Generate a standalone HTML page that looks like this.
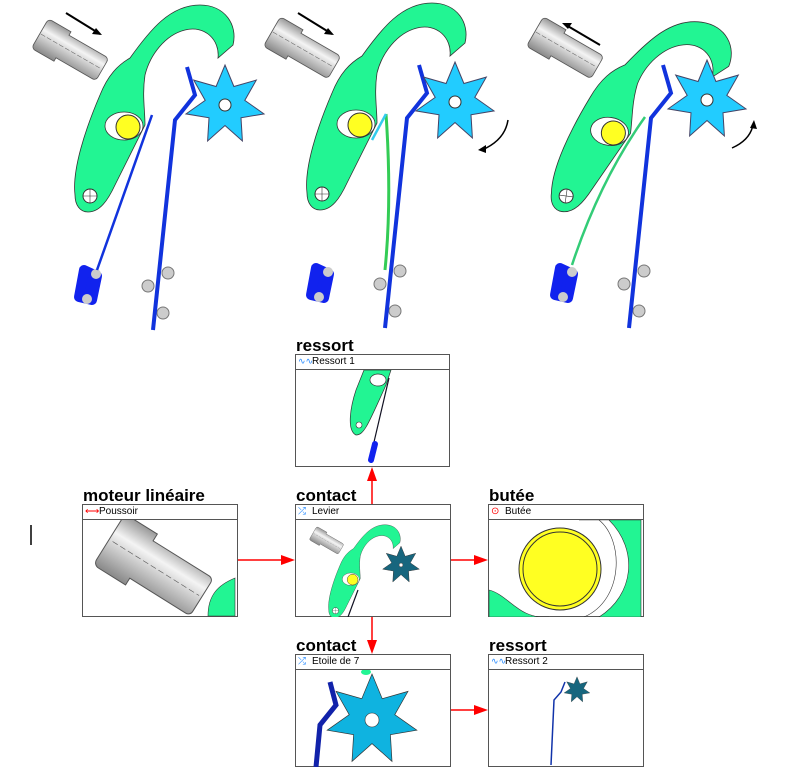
<!DOCTYPE html>
<html><head><meta charset="utf-8"><style>
body{margin:0;background:#fff;width:810px;height:779px;overflow:hidden;position:relative;font-family:"Liberation Sans",sans-serif}
.t{position:absolute;font-size:17px;font-weight:bold;color:#000;line-height:18px}
.p{position:absolute;border:1px solid #555;background:#fff;box-sizing:border-box}
.h{height:14px;border-bottom:1px solid #555;font-size:10px;line-height:13px;padding-left:16px;position:relative}
</style></head><body>
<svg width="810" height="779" style="position:absolute;left:0;top:0">
<defs>
<linearGradient id="cyl" x1="0" y1="0" x2="0" y2="1"><stop offset="0" stop-color="#999"/><stop offset=".35" stop-color="#f4f4f4"/><stop offset="1" stop-color="#888"/></linearGradient>
<g id="lever">
<path d="M75,195 C72,170 85,130 100,95 C108,75 118,65 130,58 C150,30 170,5 200,5 C225,5 238,25 233,45 L218,58 C220,40 205,25 185,30 C165,35 150,55 145,75 C142,95 145,110 145,125 L115,185 C108,200 100,212 88,212 C80,212 75,205 75,195 Z" fill="#22f593" stroke="#333" stroke-width="0.8"/>
<ellipse cx="124" cy="126" rx="19" ry="14" fill="#fff" stroke="#333" stroke-width=".8"/>
<circle cx="128" cy="127" r="12" fill="#ffff22" stroke="#333"/>
<circle cx="90" cy="196" r="7" fill="#fff" stroke="#333"/>
<path d="M83,196h14M90,189v14" stroke="#333" stroke-width=".6"/>
</g>
<g id="cylinder">
<g transform="translate(72,52) rotate(30)">
<path d="M-33,-17 h22 v4 h42 a4,4 0 0 1 4,4 v18 a4,4 0 0 1 -4,4 h-42 v4 h-22 a4,4 0 0 1 -4,-4 v-26 a4,4 0 0 1 4,-4z" fill="url(#cyl)" stroke="#555" stroke-width=".8"/>
<path d="M-36,0 H34" stroke="#666" stroke-width=".5" stroke-dasharray="5,2"/>
</g></g>
<polygon id="star" points="0,-40 8.9,-18.5 31.3,-24.9 19.8,-4.6 39,8.9 16,12.8 17.4,36 0,20.5 -17.4,36 -16,12.8 -39,8.9 -19.8,-4.6 -31.3,-24.9 -8.9,-18.5" fill="#22ccff" stroke="#446"/>
<g id="rest">
<circle cx="168" cy="273" r="6" fill="#ccc" stroke="#777"/><circle cx="148" cy="286" r="6" fill="#ccc" stroke="#777"/><circle cx="163" cy="313" r="6" fill="#ccc" stroke="#777"/>
<path d="M187,67 L195,95 L175,120 L153,330" fill="none" stroke="#1133dd" stroke-width="4"/>
<path d="M84,270 L97,276 L92,300 L79,297Z" fill="#1122ee" stroke="#1122ee" stroke-width="10" stroke-linejoin="round"/>
<circle cx="96" cy="274" r="5" fill="#ccc"/><circle cx="87" cy="299" r="5" fill="#ccc"/>
</g>
</defs>
<!-- fig1 -->
<use href="#cylinder"/>
<use href="#rest"/>
<path d="M152,115 L97,270" stroke="#1133dd" stroke-width="2.5"/>
<use href="#lever"/>
<use href="#star" x="225" y="105"/>
<circle cx="225" cy="105" r="6" fill="#fff" stroke="#333"/>
<path d="M66,13 L100,34" stroke="#000" stroke-width="2"/><path d="M102,35 l-10,-1 4,-6z" fill="#000"/>
<!-- fig2 -->
<g transform="translate(232,-2)"><use href="#cylinder"/><use href="#rest"/><use href="#lever"/></g>
<path d="M386,114 Q392,200 385,270" stroke="#33cc55" stroke-width="3" fill="none"/>
<path d="M386,114 L372,140" stroke="#33ccee" stroke-width="2.5"/>
<use href="#star" x="455" y="102"/>
<circle cx="455" cy="102" r="6" fill="#fff" stroke="#333"/>
<path d="M298,13 L332,34" stroke="#000" stroke-width="2"/><path d="M334,35 l-10,-1 4,-6z" fill="#000"/>
<path d="M508,120 Q505,140 482,150" stroke="#000" stroke-width="1.5" fill="none"/><path d="M478,150 l8,-5 0,8z" fill="#000"/>
<!-- fig3 -->
<g transform="translate(476,0) rotate(8 90 197)"><use href="#lever"/></g>
<g transform="translate(476,-2)"><use href="#rest"/></g>
<g transform="translate(495,-2)"><use href="#cylinder"/></g>
<path d="M645,117 Q600,180 572,265" stroke="#33cc77" stroke-width="2.5" fill="none"/>
<use href="#star" x="707" y="100"/>
<circle cx="707" cy="100" r="6" fill="#fff" stroke="#333"/>
<path d="M600,45 L566,25" stroke="#000" stroke-width="2"/><path d="M562,23 l10,0 -4,6z" fill="#000"/>
<path d="M732,148 Q750,140 753,125" stroke="#000" stroke-width="1.5" fill="none"/><path d="M754,120 l3,9 -7,-1z" fill="#000"/>
<!-- cursor -->
<path d="M31,525 V545" stroke="#000" stroke-width="1.5"/>
<!-- connectors -->
<g stroke="red" stroke-width="1.5" fill="red">
<path d="M237,560 H282"/><path d="M295,560 l-14,-5 0,10z" stroke="none"/>
<path d="M450,560 H475"/><path d="M488,560 l-14,-5 0,10z" stroke="none"/>
<path d="M372,504 V480"/><path d="M372,467 l-5,14 10,0z" stroke="none"/>
<path d="M372,616 V640"/><path d="M372,654 l-5,-14 10,0z" stroke="none"/>
<path d="M450,710 H475"/><path d="M488,710 l-14,-5 0,10z" stroke="none"/>
</g>
</svg>

<div class="t" style="left:296px;top:337px">ressort</div>
<div class="p" style="left:295px;top:354px;width:155px;height:113px"><div class="h"><span style="position:absolute;left:2px;color:#28f;font-size:9px">∿∿</span>Ressort 1</div>
<svg width="153" height="97" style="position:absolute;left:0;top:15px"><path d="M60,20 C55,35 50,60 60,65 C68,65 72,55 90,15 L95,0 L68,0Z" fill="#22f593" stroke="#333" stroke-width=".7"/><ellipse cx="82" cy="10" rx="8" ry="6" fill="#fff" stroke="#333" stroke-width=".7"/><circle cx="63" cy="55" r="3" fill="#fff" stroke="#333" stroke-width=".6"/><path d="M93,8 L78,72" stroke="#112" stroke-width="1.2"/><path d="M79,74 l-4,16" stroke="#1122ee" stroke-width="6" stroke-linecap="round"/></svg></div>

<div class="t" style="left:83px;top:487px">moteur linéaire</div>
<div class="p" style="left:82px;top:504px;width:156px;height:113px"><div class="h"><span style="position:absolute;left:2px;color:red">⟷</span>Poussoir</div>
<svg width="154" height="97" style="position:absolute;left:0;top:15px"><path d="M125,96 C125,75 135,65 152,58 V96Z" fill="#22f593" stroke="#333" stroke-width=".6"/><g transform="translate(72,48) rotate(32)"><path d="M-48,-30 h32 v8 h66 a5,5 0 0 1 5,5 v34 a5,5 0 0 1 -5,5 h-66 v8 h-32 a6,6 0 0 1 -6,-6 v-48 a6,6 0 0 1 6,-6z" fill="url(#cyl)" stroke="#555"/><path d="M-50,0 H52" stroke="#555" stroke-width=".6" stroke-dasharray="6,3"/></g></svg></div>

<div class="t" style="left:296px;top:487px">contact</div>
<div class="p" style="left:295px;top:504px;width:156px;height:113px"><div class="h"><span style="position:absolute;left:2px;color:#28f">⤮</span>Levier</div>
<svg width="154" height="97" style="position:absolute;left:0;top:15px"><g transform="translate(-10,-2) scale(.45)"><use href="#lever" x="20" y="10"/><use href="#cylinder" x="20" y="0"/></g><path d="M62,70 L52,97" stroke="#112" stroke-width="1.2"/><polygon transform="translate(105,45) scale(.47)" points="0,-40 8.9,-18.5 31.3,-24.9 19.8,-4.6 39,8.9 16,12.8 17.4,36 0,20.5 -17.4,36 -16,12.8 -39,8.9 -19.8,-4.6 -31.3,-24.9 -8.9,-18.5" fill="#17667e" stroke="#333"/><circle cx="105" cy="45" r="2" fill="#fff" stroke="#333" stroke-width=".5"/></svg></div>

<div class="t" style="left:489px;top:487px">butée</div>
<div class="p" style="left:488px;top:504px;width:156px;height:113px"><div class="h"><span style="position:absolute;left:2px;color:red">⊙</span>Butée</div>
<svg width="154" height="97" style="position:absolute;left:0;top:15px"><path d="M90,0 H152 V97 H110 C145,75 150,30 120,0Z M0,70 C20,75 30,100 60,97 H0Z" fill="#22f593" stroke="#333" stroke-width=".6"/><path d="M110,0 C135,20 135,80 95,97" fill="none" stroke="#333" stroke-width=".6"/><circle cx="71" cy="49" r="41" fill="#ffff22" stroke="#333"/><circle cx="71" cy="49" r="37" fill="none" stroke="#333"/></svg></div>

<div class="t" style="left:296px;top:637px">contact</div>
<div class="p" style="left:295px;top:654px;width:156px;height:113px"><div class="h"><span style="position:absolute;left:2px;color:#28f">⤮</span>Etoile de 7</div>
<svg width="154" height="97" style="position:absolute;left:0;top:15px"><ellipse cx="70" cy="2" rx="5" ry="3" fill="#22f593"/><path d="M34,12 L40,35 L24,55 L20,97" fill="none" stroke="#1122aa" stroke-width="5"/><polygon transform="translate(76,50) scale(1.15)" points="0,-40 8.9,-18.5 31.3,-24.9 19.8,-4.6 39,8.9 16,12.8 17.4,36 0,20.5 -17.4,36 -16,12.8 -39,8.9 -19.8,-4.6 -31.3,-24.9 -8.9,-18.5" fill="#0fb3e0" stroke="#333" stroke-width=".6"/><circle cx="76" cy="50" r="7" fill="#fff" stroke="#333" stroke-width=".6"/></svg></div>

<div class="t" style="left:489px;top:637px">ressort</div>
<div class="p" style="left:488px;top:654px;width:156px;height:113px"><div class="h"><span style="position:absolute;left:2px;color:#28f;font-size:9px">∿∿</span>Ressort 2</div>
<svg width="154" height="97" style="position:absolute;left:0;top:15px"><path d="M76,12 L72,22 L65,30 L62,95" fill="none" stroke="#1133aa" stroke-width="1.5"/><polygon transform="translate(88,20) scale(.33)" points="0,-40 8.9,-18.5 31.3,-24.9 19.8,-4.6 39,8.9 16,12.8 17.4,36 0,20.5 -17.4,36 -16,12.8 -39,8.9 -19.8,-4.6 -31.3,-24.9 -8.9,-18.5" fill="#17667e" stroke="#333"/></svg></div>
</body></html>
